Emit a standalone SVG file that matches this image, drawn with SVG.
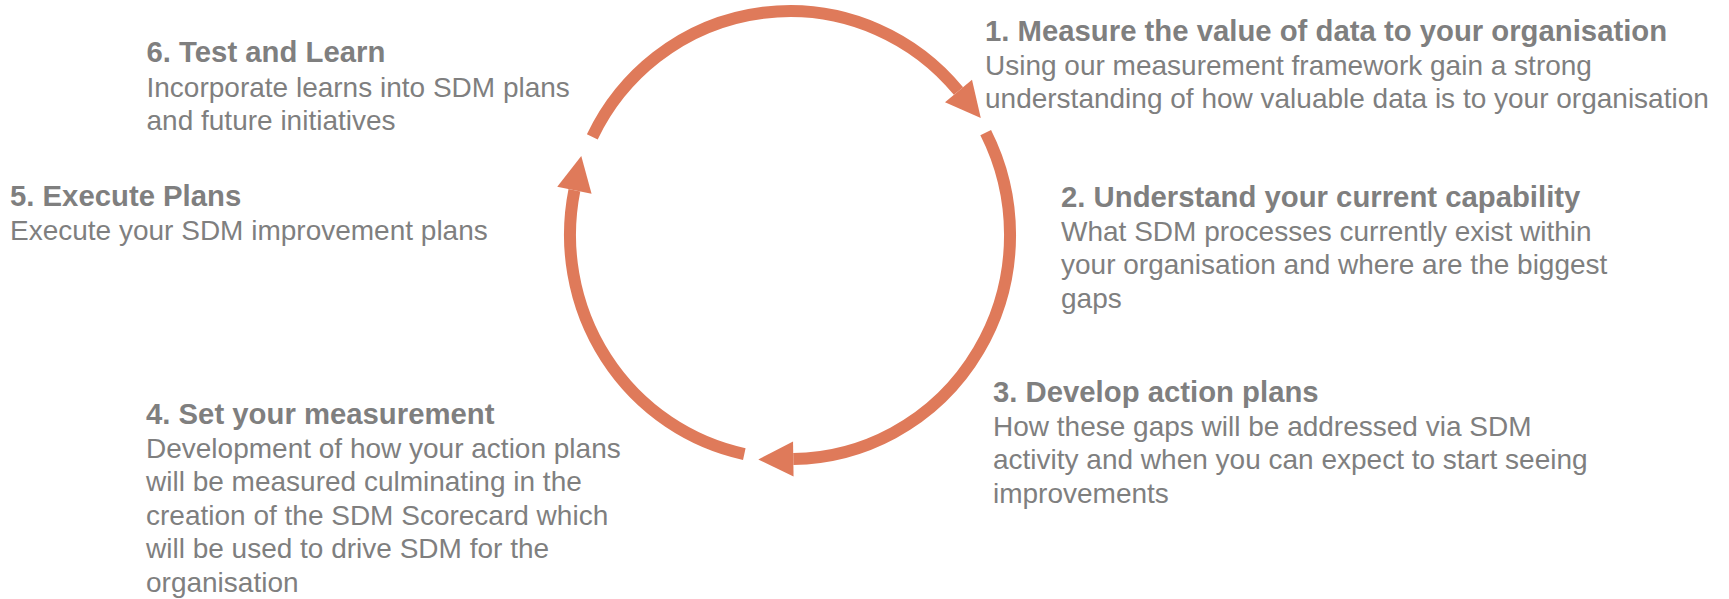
<svg xmlns="http://www.w3.org/2000/svg" width="1729" height="599" viewBox="0 0 1729 599">
<style>
text{font-family:"Liberation Sans",Arial,sans-serif;font-size:28px;fill:#7f7f7f}
.t{font-weight:bold;font-size:29.3px}
.arc{fill:none;stroke:#df7a5a;stroke-width:12;stroke-linecap:butt}
</style>
<defs>
<marker id="ah" markerUnits="userSpaceOnUse" markerWidth="40" markerHeight="40" refX="0" refY="0" orient="auto" viewBox="-2 -20 40 40" overflow="visible">
<path d="M0,-17.5 L35,0 L0,17.5 Z" fill="#df7a5a"/>
</marker>
</defs>
<rect width="1729" height="599" fill="#ffffff"/>
<g id="connectors">
<path class="arc" d="M592.3 136.8 A220 224 0 0 1 958.5 91" marker-end="url(#ah)"/>
<path class="arc" d="M985.7 132.6 A220 224 0 0 1 793.3 459" marker-end="url(#ah)"/>
<path class="arc" d="M744.3 454.1 A220 224 0 0 1 574.4 190.3" marker-end="url(#ah)"/>
</g>
<g id="step1">
<text x="985" y="41" class="t">1. Measure the value of data to your organisation</text>
<text x="985" y="74.5">Using our measurement framework gain a strong</text>
<text x="985" y="108">understanding of how valuable data is to your organisation</text>
</g>
<g id="step2">
<text x="1061" y="207" class="t">2. Understand your current capability</text>
<text x="1061" y="240.5">What SDM processes currently exist within</text>
<text x="1061" y="274">your organisation and where are the biggest</text>
<text x="1061" y="307.5">gaps</text>
</g>
<g id="step3">
<text x="993" y="402" class="t">3. Develop action plans</text>
<text x="993" y="435.5">How these gaps will be addressed via SDM</text>
<text x="993" y="469">activity and when you can expect to start seeing</text>
<text x="993" y="502.5">improvements</text>
</g>
<g id="step4">
<text x="146" y="424" class="t">4. Set your measurement</text>
<text x="146" y="457.5">Development of how your action plans</text>
<text x="146" y="491">will be measured culminating in the</text>
<text x="146" y="524.5">creation of the SDM Scorecard which</text>
<text x="146" y="558">will be used to drive SDM for the</text>
<text x="146" y="591.5">organisation</text>
</g>
<g id="step5">
<text x="10" y="206" class="t">5. Execute Plans</text>
<text x="10" y="240">Execute your SDM improvement plans</text>
</g>
<g id="step6">
<text x="146.5" y="62" class="t">6. Test and Learn</text>
<text x="146.5" y="96.5">Incorporate learns into SDM plans</text>
<text x="146.5" y="130">and future initiatives</text>
</g>
</svg>
